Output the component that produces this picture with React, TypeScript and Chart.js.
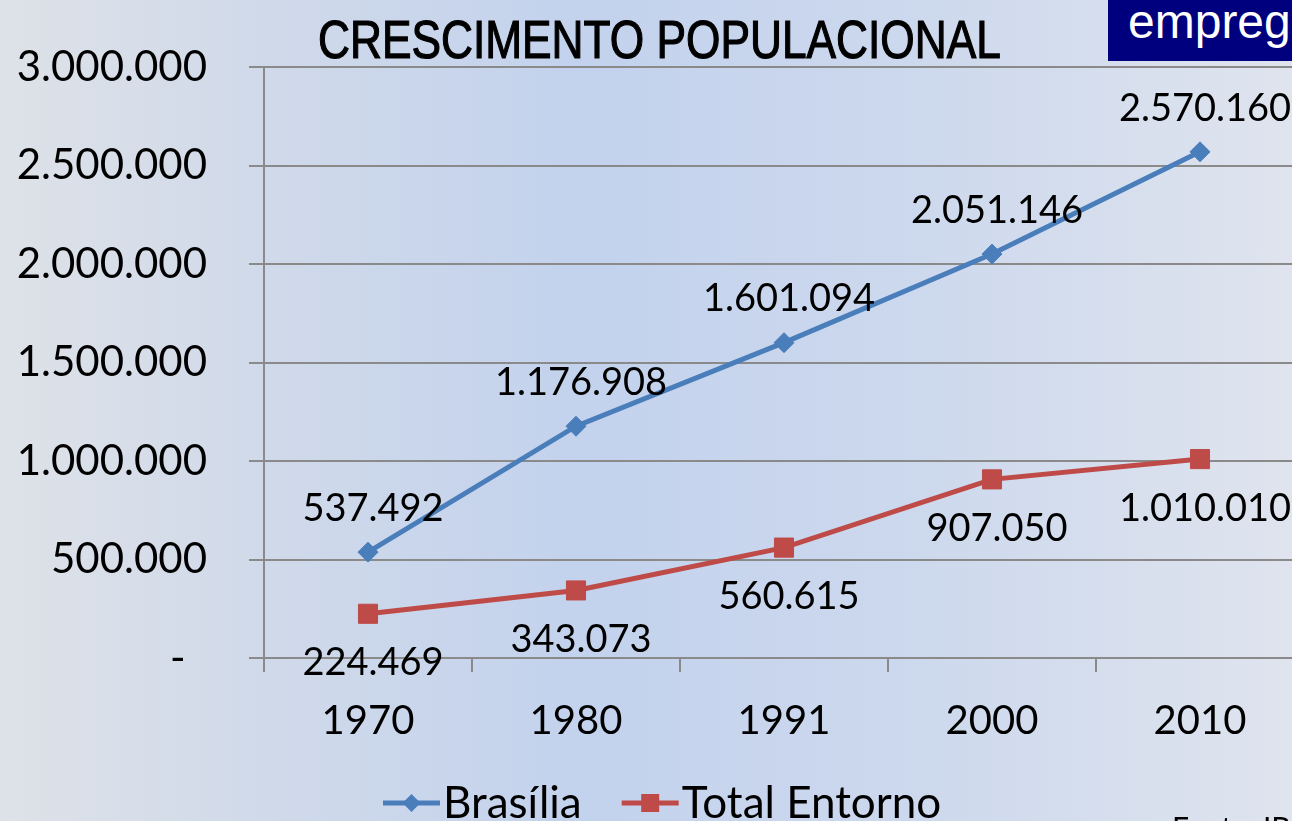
import React, { useEffect, useRef } from 'react';
import { Chart, registerables } from 'chart.js';

Chart.register(...registerables);

const years = ['1970', '1980', '1991', '2000', '2010'];
const brasilia = [537492, 1176908, 1601094, 2051146, 2570160];
const entorno = [224469, 343073, 560615, 907050, 1010010];
const seriesNames = ['Brasília', 'Total Entorno'];
const yMin = 0;
const yMax = 3000000;
const yStep = 500000;

const FONT = 'Lato, "Open Sans", sans-serif';
const BLUE = '#4a7ebb';
const RED = '#be4b48';
const GRID = '#8a8a8a';

function fmt(v: number): string {
  if (v === 0) return '-  ';
  return String(v).replace(/\B(?=(\d{3})+(?!\d))/g, '.');
}

const pointLabelsPlugin = {
  id: 'pointLabels',
  afterDatasetsDraw(chart: any, _args: any, opts: any) {
    const ctx = chart.ctx;
    ctx.save();
    ctx.font = `${opts.size}px ${FONT}`;
    ctx.fillStyle = '#000';
    ctx.textAlign = 'center';
    ctx.textBaseline = 'alphabetic';
    chart.data.datasets.forEach((ds: any, i: number) => {
      const meta = chart.getDatasetMeta(i);
      meta.data.forEach((el: any, j: number) => {
        const v = ds.data[j] as number;
        ctx.fillText(fmt(v), el.x + opts.dx, el.y + opts.dy[i] + opts.size * 0.36);
      });
    });
    ctx.restore();
  },
};

const customLegendPlugin = {
  id: 'customLegend',
  afterDraw(chart: any, _args: any, opts: any) {
    const ctx = chart.ctx;
    ctx.save();
    ctx.font = `${opts.size}px ${FONT}`;
    ctx.textBaseline = 'alphabetic';
    ctx.textAlign = 'left';
    let x = opts.x;
    const y = opts.y;
    chart.data.datasets.forEach((ds: any) => {
      ctx.strokeStyle = ds.borderColor;
      ctx.lineWidth = ds.borderWidth;
      ctx.beginPath();
      ctx.moveTo(x, y);
      ctx.lineTo(x + opts.lineLen, y);
      ctx.stroke();
      const cx = x + opts.lineLen / 2;
      ctx.fillStyle = ds.backgroundColor;
      ctx.beginPath();
      if (ds.pointStyle === 'rectRot') {
        const r = 9;
        ctx.moveTo(cx - r, y);
        ctx.lineTo(cx, y - r);
        ctx.lineTo(cx + r, y);
        ctx.lineTo(cx, y + r);
        ctx.closePath();
      } else {
        const h = 9;
        ctx.rect(cx - h, y - h, 2 * h, 2 * h);
      }
      ctx.fill();
      ctx.fillStyle = '#000';
      const tx = x + opts.lineLen + 3;
      ctx.fillText(ds.label, tx, opts.baseline);
      x = tx + ctx.measureText(ds.label).width + opts.gap;
    });
    ctx.restore();
  },
};

export default function App() {
  const canvasRef = useRef<HTMLCanvasElement | null>(null);

  useEffect(() => {
    const canvas = canvasRef.current;
    if (!canvas) return;
    const chart = new Chart(canvas, {
      type: 'line',
      data: {
        labels: years,
        datasets: [
          {
            label: seriesNames[0],
            data: brasilia,
            borderColor: BLUE,
            backgroundColor: BLUE,
            borderWidth: 5,
            pointStyle: 'rectRot',
            pointRadius: 10,
            pointBorderWidth: 1,
            pointBackgroundColor: BLUE,
            pointBorderColor: BLUE,
            tension: 0,
          },
          {
            label: seriesNames[1],
            data: entorno,
            borderColor: RED,
            backgroundColor: RED,
            borderWidth: 5,
            pointStyle: 'rect',
            pointRadius: 13.5,
            pointBorderWidth: 1,
            pointBackgroundColor: RED,
            pointBorderColor: RED,
            tension: 0,
          },
        ],
      },
      options: {
        responsive: false,
        animation: false,
        layout: { padding: { left: 0, right: 26, top: 67, bottom: 0 } },
        plugins: {
          legend: { display: false },
          title: { display: false },
          tooltip: { enabled: false },
          pointLabels: { size: 38, dx: 5, dy: [-45, 48] },
          customLegend: { size: 44, x: 383, y: 803, baseline: 818, lineLen: 57, gap: 40 },
        } as any,
        scales: {
          x: {
            type: 'category',
            offset: true,
            grid: {
              display: true,
              drawOnChartArea: false,
              drawTicks: true,
              tickLength: 14,
              color: GRID,
              lineWidth: 2,
              offset: true,
            },
            border: { display: true, color: GRID, width: 2 },
            ticks: {
              font: { family: FONT, size: 40 },
              color: '#000',
              padding: 25,
              maxRotation: 0,
              autoSkip: false,
            },
            afterFit(s: any) {
              s.height = 163;
            },
          },
          y: {
            min: yMin,
            max: yMax,
            ticks: {
              stepSize: yStep,
              callback: (v: any) => fmt(Number(v)),
              font: { family: FONT, size: 42 },
              color: '#000',
              padding: 42,
            },
            grid: { color: GRID, lineWidth: 2, tickLength: 15 },
            border: { display: true, color: GRID, width: 2 },
            afterFit(s: any) {
              s.width = 264;
            },
          },
        },
      } as any,
      plugins: [pointLabelsPlugin, customLegendPlugin],
    });
    return () => chart.destroy();
  }, []);

  return (
    <div
      style={{
        position: 'absolute',
        left: 0,
        top: 0,
        width: 1292,
        height: 821,
        overflow: 'hidden',
        background: 'linear-gradient(to right, #dee2e8 0%, #cfd9ea 22%, #c3d2ed 45%, #ccd8ed 70%, #dfe4ee 100%)',
      }}
    >
      <canvas
        ref={canvasRef}
        width={1330}
        height={821}
        style={{ position: 'absolute', left: 0, top: 0, width: 1330, height: 821, display: 'block' }}
      />
      <div
        style={{
          position: 'absolute',
          left: 318,
          top: 13,
          fontFamily: '"Liberation Sans", Arial, sans-serif',
          fontSize: 53,
          lineHeight: 1,
          color: '#000',
          whiteSpace: 'nowrap',
          transform: 'scaleX(0.835)',
          transformOrigin: 'left top',
          WebkitTextStroke: '1.2px #000',
        }}
      >
        CRESCIMENTO POPULACIONAL
      </div>
      <div
        style={{
          position: 'absolute',
          left: 1108,
          top: 0,
          width: 200,
          height: 61,
          background: '#00007f',
        }}
      >
        <div
          style={{
            position: 'absolute',
            left: 20,
            top: -2,
            fontFamily: '"Liberation Sans", Arial, sans-serif',
            fontSize: 48,
            lineHeight: 1,
            color: '#fff',
            whiteSpace: 'nowrap',
          }}
        >
          empreg
        </div>
      </div>
      <div
        style={{
          position: 'absolute',
          left: 1172,
          top: 812,
          fontFamily: FONT,
          fontSize: 30,
          lineHeight: 1,
          color: '#000',
          whiteSpace: 'nowrap',
        }}
      >
        Fonte: IBGE
      </div>
    </div>
  );
}
